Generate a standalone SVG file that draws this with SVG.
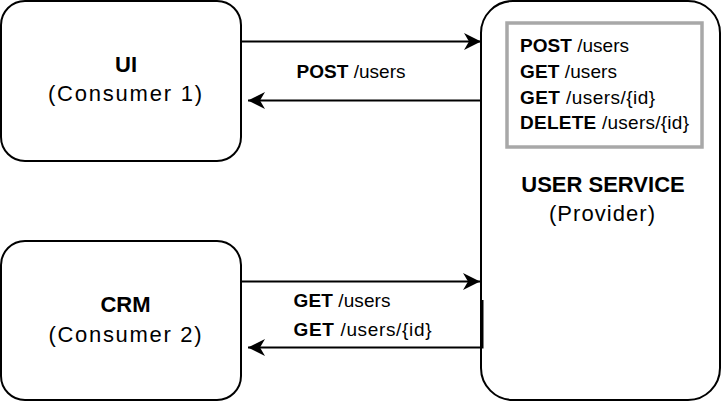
<svg xmlns="http://www.w3.org/2000/svg" width="722" height="402" viewBox="0 0 722 402">
<style>
.node{fill:#ffffff;stroke:#000000;stroke-width:2}
.conn{fill:none;stroke:#000000;stroke-width:2}
.title{font-family:"Liberation Sans",Arial,sans-serif;font-size:22px;font-weight:bold;fill:#000;text-anchor:middle}
.sub{font-family:"Liberation Sans",Arial,sans-serif;font-size:22px;fill:#000;text-anchor:middle}
.lbl{font-family:"Liberation Sans",Arial,sans-serif;font-size:19px;fill:#000}
.b{font-weight:bold}
</style>
<defs>
<marker id="arrow" viewBox="0 0 18 18" refX="17" refY="9" markerWidth="18" markerHeight="18" markerUnits="userSpaceOnUse" orient="auto">
<path d="M17,9 L0,0.5 L5,9 L0,17.5 Z" fill="#000"/>
</marker>
</defs>
<rect width="722" height="402" fill="#ffffff"/>
<g id="ui">
<rect class="node" x="1" y="1" width="240" height="160" rx="24" ry="24"/>
<text class="title" x="126" y="72">UI</text>
<text class="sub" x="125" y="101" textLength="154" lengthAdjust="spacing">(Consumer 1)</text>
</g>
<g id="crm">
<rect class="node" x="1" y="241" width="240" height="159" rx="24" ry="24"/>
<text class="title" x="125.5" y="312">CRM</text>
<text class="sub" x="125" y="342" textLength="153" lengthAdjust="spacing">(Consumer 2)</text>
</g>
<g id="user-service">
<rect class="node" x="481" y="1" width="239" height="399" rx="32" ry="32"/>
<rect x="507" y="23" width="195" height="124" fill="none" stroke="#a8a8a8" stroke-width="3.5"/>
<text class="lbl" x="520" y="52" textLength="109" lengthAdjust="spacing"><tspan class="b">POST</tspan> /users</text>
<text class="lbl" x="520" y="78" textLength="97" lengthAdjust="spacing"><tspan class="b">GET</tspan> /users</text>
<text class="lbl" x="520" y="103.5" textLength="135" lengthAdjust="spacing"><tspan class="b">GET</tspan> /users/{id}</text>
<text class="lbl" x="520" y="129" textLength="169" lengthAdjust="spacing"><tspan class="b">DELETE</tspan> /users/{id}</text>
<text class="title" x="603" y="192">USER SERVICE</text>
<text class="sub" x="602" y="221" textLength="106" lengthAdjust="spacing">(Provider)</text>
</g>
<g id="connectors">
<line class="conn" x1="241" y1="41.5" x2="481" y2="41.5" marker-end="url(#arrow)"/>
<line class="conn" x1="481" y1="100.5" x2="248" y2="100.5" marker-end="url(#arrow)"/>
<line class="conn" x1="241" y1="281.5" x2="480" y2="281.5" marker-end="url(#arrow)"/>
<path class="conn" d="M482.5,300 L482.5,347.5 L248,347.5" marker-end="url(#arrow)"/>
<text class="lbl" x="296.5" y="78" textLength="109" lengthAdjust="spacing"><tspan class="b">POST</tspan> /users</text>
<text class="lbl" x="293.5" y="307" textLength="97" lengthAdjust="spacing"><tspan class="b">GET</tspan> /users</text>
<text class="lbl" x="293.5" y="336" textLength="138" lengthAdjust="spacing"><tspan class="b">GET</tspan> /users/{id}</text>
</g>
</svg>
